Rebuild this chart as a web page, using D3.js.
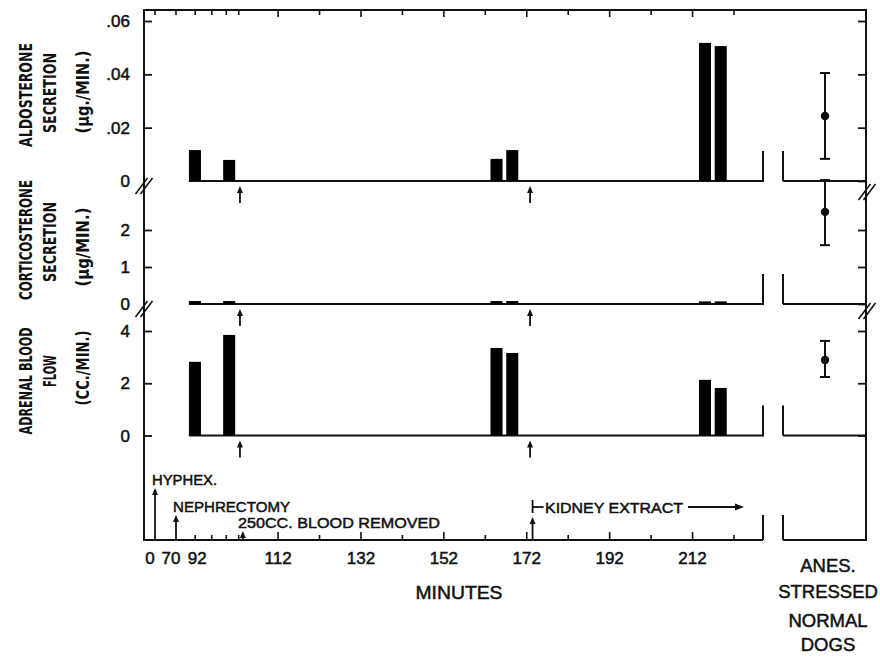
<!DOCTYPE html>
<html><head><meta charset="utf-8">
<script src="https://cdn.jsdelivr.net/npm/d3@7"></script>
<style>html,body{margin:0;padding:0;background:#fff}</style>
</head><body><svg id="c" width="880" height="664"></svg>
<script>
// ---------- data ----------
const barTimes = [91.7, 100.2, 164.7, 168.5, 215.0, 218.8];
const aldosterone = [0.0116, 0.0079, 0.0083, 0.0116, 0.0518, 0.0506];
const corticosterone = [0.08, 0.08, 0.08, 0.08, 0.07, 0.07];
const bloodFlow = [2.82, 3.85, 3.35, 3.16, 2.13, 1.82];
const normalMean = [0.0244, 2.49, 2.89];
const normalLow = [0.0083, 1.59, 2.24];
const normalHigh = [0.0405, 3.35, 3.62];
const aldoTicks = [0, 0.02, 0.04, 0.06];
const aldoTickLabels = ["0", ".02", ".04", ".06"];
const corticoTicks = [0, 1, 2];
const corticoTickLabels = ["0", "1", "2"];
const flowTicks = [0, 2, 4];
const flowTickLabels = ["0", "2", "4"];
const timeLabelTicks = [0, 70, 92, 112, 132, 152, 172, 192, 212];
const majorTimeTicks = [112, 132, 152, 172, 192, 212];
const minorTimeTicks = [92, 96, 99.5, 102.5, 122, 142, 162, 182, 202, 222];
const topExtraTicks = [0, 70];
const eventTimes = [0, 70, 103.5, 173.4];
const eventLabels = ["HYPHEX.", "NEPHRECTOMY", "250CC. BLOOD REMOVED", "KIDNEY EXTRACT"];
const panelArrowTimes = [102.8, 172.8];
const panelTitles = [
  ["ALDOSTERONE", "SECRETION", "(μg./MIN.)"],
  ["CORTICOSTERONE", "SECRETION", "(μg/MIN.)"],
  ["ADRENAL BLOOD", "FLOW", "(CC./MIN.)"]
];
const xTitle = "MINUTES";
const groupLabel = ["ANES.", "STRESSED", "NORMAL", "DOGS"];

// ---------- layout ----------
const svg = d3.select("#c");
svg.append("rect").attr("width", 880).attr("height", 664).attr("fill", "#fff");
const INK = "#111";
const LW = 2;
const axisX = 144, rightX = 866, topY = 10, bottomY = 540, endX = 763, secX = 783, normX = 825;
const tickFont = "'Liberation Sans', Arial, sans-serif";
const titleFont = "'DejaVu Sans Condensed', 'DejaVu Sans', sans-serif";

const x = d3.scaleLinear().domain([0, 70, 92, 229]).range([155, 176, 195.2, endX]);
const barW = x(200 + 1.45) - x(200 - 1.45);
const yA = d3.scaleLinear().domain([0, 0.06]).range([181, 21]);
const yC = d3.scaleLinear().domain([0, 2]).range([304, 230]);
const yF = d3.scaleLinear().domain([0, 4]).range([435.5, 331]);

const panels = [
  { y: yA, values: aldosterone, ticks: aldoTicks, labels: aldoTickLabels, zeroTick: false,
    titlePos: [[26, 95, 104], [50, 93, 80], [83, 92, 83]] },
  { y: yC, values: corticosterone, ticks: corticoTicks, labels: corticoTickLabels, zeroTick: false,
    titlePos: [[26, 240, 120], [50, 242, 80], [83, 247, 79]] },
  { y: yF, values: bloodFlow, ticks: flowTicks, labels: flowTickLabels, zeroTick: true,
    titlePos: [[26, 381, 107], [50, 371, 32], [83, 368, 75]] }
];

function line(x1, y1, x2, y2, w) {
  svg.append("line").attr("x1", x1).attr("y1", y1).attr("x2", x2).attr("y2", y2)
    .attr("stroke", INK).attr("stroke-width", w || LW);
}
function upArrow(ax, tipY, baseY) {
  line(ax, tipY + 5, ax, baseY, 1.8);
  svg.append("path").attr("d", `M${ax},${tipY} L${ax - 3},${tipY + 7} L${ax + 3},${tipY + 7} Z`).attr("fill", INK);
}
function breakMark(cx, cy) {
  [-2.5, 2.5].forEach(o => {
    line(cx + o - 6, cy + 8, cx + o + 6, cy - 8, 1.6);
  });
}
function txt(sel) {
  return sel.attr("font-family", tickFont).attr("fill", INK)
    .attr("stroke", INK).attr("stroke-width", 0.5);
}

// frame
line(axisX, topY, rightX, topY);
line(axisX, topY - 1, axisX, bottomY + 1);
line(rightX, topY - 1, rightX, bottomY + 1);
line(axisX, bottomY, endX, bottomY);
line(endX, 515, endX, bottomY);
line(secX, 515, secX, bottomY);
line(secX, bottomY, rightX, bottomY);

// top ticks (mirror of time axis)
majorTimeTicks.forEach(t => line(x(t), topY, x(t), topY + 7, 1.6));
minorTimeTicks.concat(topExtraTicks).forEach(t => { if (x(t) < endX) line(x(t), topY, x(t), topY + 5, 1.6); });

// bottom time axis ticks
majorTimeTicks.forEach(t => line(x(t), bottomY, x(t), bottomY - 8, 1.6));
minorTimeTicks.forEach(t => { if (x(t) < endX) line(x(t), bottomY, x(t), bottomY - 5, 1.6); });

const labelDx = { 0: -5, 70: -5, 92: 2 };
txt(svg.append("g").selectAll("text").data(timeLabelTicks).join("text")
  .attr("x", d => x(d) + (labelDx[d] || 0)).attr("y", 564)
  .attr("text-anchor", "middle").attr("font-size", 17)).text(d => d);

txt(svg.append("text").attr("x", 459).attr("y", 599).attr("text-anchor", "middle")
  .attr("font-size", 19)
  .attr("textLength", 87).attr("lengthAdjust", "spacingAndGlyphs")).text(xTitle);

// right group label
const glY = [572, 598, 627, 651];
groupLabel.forEach((s, i) => {
  txt(svg.append("text").attr("x", 828).attr("y", glY[i]).attr("text-anchor", "middle")
    .attr("font-size", 18.5)).text(s);
});

// panels
panels.forEach((p, pi) => {
  const y0 = p.y(0);
  // left axis ticks + labels
  const tv = p.zeroTick ? p.ticks : p.ticks.filter(v => v !== 0);
  svg.append("g").attr("transform", `translate(${axisX},0)`)
    .call(d3.axisLeft(p.y).tickValues(tv).tickSizeInner(-8).tickSizeOuter(0).tickFormat(""))
    .call(g => g.select(".domain").remove())
    .call(g => g.selectAll("line").attr("stroke", INK).attr("stroke-width", 1.8));
  txt(svg.append("g").selectAll("text").data(p.ticks).join("text")
    .attr("x", 130).attr("y", d => p.y(d)).attr("dy", "0.36em")
    .attr("text-anchor", "end").attr("font-size", 17)).text((d, i) => p.labels[i]);
  // right axis ticks
  svg.append("g").attr("transform", `translate(${rightX},0)`)
    .call(d3.axisRight(p.y).tickValues(p.ticks).tickSizeInner(-8).tickSizeOuter(0).tickFormat(""))
    .call(g => g.select(".domain").remove())
    .call(g => g.selectAll("line").attr("stroke", INK).attr("stroke-width", 1.8));

  // baseline and stubs
  line(x(barTimes[0]) - barW / 2, y0, endX, y0);
  line(endX, y0 - 30, endX, y0 + 1);
  line(secX, y0 - 30, secX, y0);
  line(secX, y0, rightX, y0);

  // bars
  svg.append("g").selectAll("rect").data(barTimes).join("rect")
    .attr("x", t => x(t) - barW / 2).attr("width", barW)
    .attr("y", (t, i) => p.y(p.values[i])).attr("height", (t, i) => y0 - p.y(p.values[i]))
    .attr("fill", "#000");

  // arrows under panel
  panelArrowTimes.forEach(t => upArrow(x(t), y0 + 5, y0 + 22));

  // normal dogs mean +- range
  const lo = p.y(normalLow[pi]), hi = p.y(normalHigh[pi]), m = p.y(normalMean[pi]);
  line(normX, hi, normX, lo, 2);
  line(normX - 5, hi, normX + 5, hi, 2);
  line(normX - 5, lo, normX + 5, lo, 2);
  svg.append("circle").attr("cx", normX).attr("cy", m).attr("r", 4.2).attr("fill", INK);

  // titles
  panelTitles[pi].forEach((s, k) => {
    const [cx, cy, len] = p.titlePos[k];
    svg.append("text").attr("transform", `translate(${cx},${cy}) rotate(-90)`)
      .attr("text-anchor", "middle").attr("dy", "0.36em")
      .attr("font-family", titleFont).attr("font-weight", "bold").attr("font-size", 17)
      .attr("fill", INK).attr("textLength", len).attr("lengthAdjust", "spacingAndGlyphs").text(s);
  });
});

// axis breaks
breakMark(axisX, 186);
breakMark(axisX, 309);
breakMark(rightX + 1, 192);
breakMark(rightX + 1, 311);

// events along the time axis
const evTip = [488, 515, 531, 517];
const evLabelX = [152, 173, 238, 545];
const evLabelY = [485, 512, 528, 513];
const evLabelLen = [65, 117, 202, 138];
eventTimes.forEach((t, i) => {
  upArrow(x(t), evTip[i], bottomY);
  txt(svg.append("text").attr("x", evLabelX[i]).attr("y", evLabelY[i])
    .attr("font-size", 15)
    .attr("textLength", evLabelLen[i]).attr("lengthAdjust", "spacingAndGlyphs")).text(eventLabels[i]);
});
// kidney extract bracket and arrow
const kx = x(eventTimes[3]);
line(kx, 500, kx, 513, 1.8);
line(kx, 507, kx + 11, 507, 1.8);
line(688, 507, 736, 507, 1.8);
svg.append("path").attr("d", "M744,507 L735,503.5 L735,510.5 Z").attr("fill", INK);
</script>
</body></html>
